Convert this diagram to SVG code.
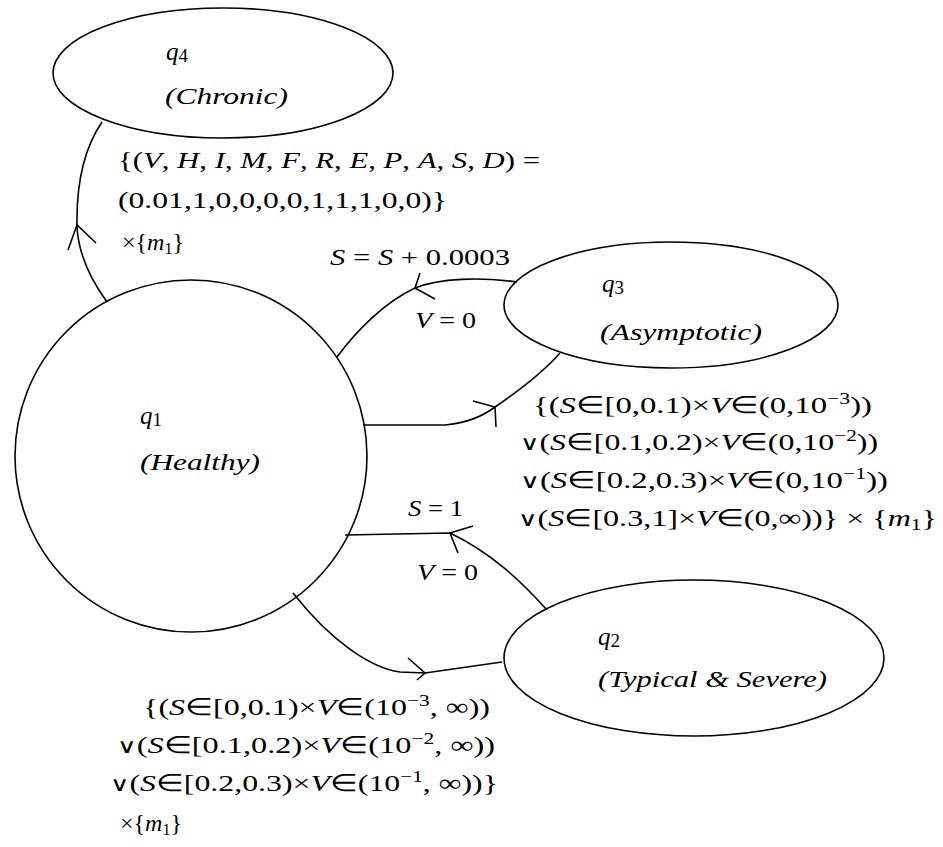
<svg xmlns="http://www.w3.org/2000/svg" width="943" height="847" viewBox="0 0 943 847">
<style>
.node{fill:#fff;stroke:#000;stroke-width:1.6}
.edge{fill:none;stroke:#000;stroke-width:1.6}
.t{font-family:"Liberation Serif","Times New Roman",serif;font-size:24px;fill:#000}
.nl{font-family:"Liberation Serif","Times New Roman",serif;font-size:23px;fill:#000;font-style:italic}
.q{font-family:"Liberation Serif","Times New Roman",serif;font-size:25px;fill:#000;font-style:italic}
.i{font-style:italic}
.sub{font-size:16px}
.qs{font-size:19px;font-style:normal}
.sup{font-size:16px}
.or{font-family:"DejaVu Serif",serif;font-size:20px}
</style>
<rect width="943" height="847" fill="#fff"/>
<g id="q4">
<ellipse class="node" cx="223" cy="73" rx="170" ry="65"/>
<text class="q" x="166" y="60">q<tspan class="qs" dy="2">4</tspan></text>
<text class="nl" x="165" y="104" textLength="123" lengthAdjust="spacingAndGlyphs">(Chronic)</text>
</g>
<g id="q1">
<circle class="node" cx="191" cy="456" r="176"/>
<text class="q" x="140" y="424">q<tspan class="qs" dy="2">1</tspan></text>
<text class="nl" x="140" y="470" textLength="120" lengthAdjust="spacingAndGlyphs">(Healthy)</text>
</g>
<g id="q3">
<ellipse class="node" cx="671" cy="305" rx="167" ry="63"/>
<text class="q" x="602" y="292">q<tspan class="qs" dy="2">3</tspan></text>
<text class="nl" x="600" y="340" textLength="162" lengthAdjust="spacingAndGlyphs">(Asymptotic)</text>
</g>
<g id="q2">
<ellipse class="node" cx="694" cy="658" rx="190" ry="78"/>
<text class="q" x="598" y="645">q<tspan class="qs" dy="2">2</tspan></text>
<text class="nl" x="598" y="687" textLength="229" lengthAdjust="spacingAndGlyphs">(Typical &amp; Severe)</text>
</g>
<g id="connectors">
<path class="edge" d="M107,302 Q78,262 77,225 Q76,160 102,122"/>
<path class="edge" d="M68,250 L77,225 L96,243"/>
<path class="edge" d="M517,282 C480,277 440,278 415,288 C385,302 357,330 337,357"/>
<path class="edge" d="M420,273 L415,288 L435,299"/>
<path class="edge" d="M363,425 L445,425 C468,423 483,416 495,407 C520,390 545,370 560,353"/>
<path class="edge" d="M473,401 L495,407 L496,427"/>
<path class="edge" d="M547,610 C520,580 490,552 450,533 L345,535"/>
<path class="edge" d="M473,526 L450,533 L458,553"/>
<path class="edge" d="M293,593 C330,640 370,668 400,672 L425,673 L502,662"/>
<path class="edge" d="M408,658 L425,673 L417,680"/>
</g>
<g id="labels">
<text class="t" x="118" y="168" textLength="422" lengthAdjust="spacingAndGlyphs">{(<tspan class="i">V</tspan>, <tspan class="i">H</tspan>, <tspan class="i">I</tspan>, <tspan class="i">M</tspan>, <tspan class="i">F</tspan>, <tspan class="i">R</tspan>, <tspan class="i">E</tspan>, <tspan class="i">P</tspan>, <tspan class="i">A</tspan>, <tspan class="i">S</tspan>, <tspan class="i">D</tspan>) =</text>
<text class="t" x="118" y="208" textLength="329" lengthAdjust="spacingAndGlyphs">(0.01,1,0,0,0,0,1,1,1,0,0)}</text>
<text class="t" x="122" y="250">×{<tspan class="i">m</tspan><tspan class="sub" dy="4">1</tspan><tspan dy="-4">}</tspan></text>
<text class="t" x="330" y="265" textLength="180" lengthAdjust="spacingAndGlyphs"><tspan class="i">S</tspan> = <tspan class="i">S</tspan> + 0.0003</text>
<text class="t" x="415" y="328" textLength="61" lengthAdjust="spacingAndGlyphs"><tspan class="i">V</tspan> = 0</text>
<text class="t" x="533" y="413" textLength="339" lengthAdjust="spacingAndGlyphs">{(<tspan class="i">S</tspan>∈[0,0.1)×<tspan class="i">V</tspan>∈(0,10<tspan class="sup" dy="-9">−3</tspan><tspan dy="9">))</tspan></text>
<text class="t" x="520" y="450" textLength="358" lengthAdjust="spacingAndGlyphs"><tspan class="or">∨</tspan>(<tspan class="i">S</tspan>∈[0.1,0.2)×<tspan class="i">V</tspan>∈(0,10<tspan class="sup" dy="-9">−2</tspan><tspan dy="9">))</tspan></text>
<text class="t" x="520" y="488" textLength="368" lengthAdjust="spacingAndGlyphs"><tspan class="or">∨</tspan>(<tspan class="i">S</tspan>∈[0.2,0.3)×<tspan class="i">V</tspan>∈(0,10<tspan class="sup" dy="-9">−1</tspan><tspan dy="9">))</tspan></text>
<text class="t" x="518" y="526" textLength="419" lengthAdjust="spacingAndGlyphs"><tspan class="or">∨</tspan>(<tspan class="i">S</tspan>∈[0.3,1]×<tspan class="i">V</tspan>∈(0,∞))} × {<tspan class="i">m</tspan><tspan class="sub" dy="4">1</tspan><tspan dy="-4">}</tspan></text>
<text class="t" x="408" y="516" textLength="55" lengthAdjust="spacingAndGlyphs"><tspan class="i">S</tspan> = 1</text>
<text class="t" x="417" y="580" textLength="61" lengthAdjust="spacingAndGlyphs"><tspan class="i">V</tspan> = 0</text>
<text class="t" x="143" y="715" textLength="347" lengthAdjust="spacingAndGlyphs">{(<tspan class="i">S</tspan>∈[0,0.1)×<tspan class="i">V</tspan>∈(10<tspan class="sup" dy="-9">−3</tspan><tspan dy="9">, ∞))</tspan></text>
<text class="t" x="117" y="753" textLength="378" lengthAdjust="spacingAndGlyphs"><tspan class="or">∨</tspan>(<tspan class="i">S</tspan>∈[0.1,0.2)×<tspan class="i">V</tspan>∈(10<tspan class="sup" dy="-9">−2</tspan><tspan dy="9">, ∞))</tspan></text>
<text class="t" x="110" y="791" textLength="388" lengthAdjust="spacingAndGlyphs"><tspan class="or">∨</tspan>(<tspan class="i">S</tspan>∈[0.2,0.3)×<tspan class="i">V</tspan>∈(10<tspan class="sup" dy="-9">−1</tspan><tspan dy="9">, ∞))}</tspan></text>
<text class="t" x="120" y="831">×{<tspan class="i">m</tspan><tspan class="sub" dy="4">1</tspan><tspan dy="-4">}</tspan></text>
</g>
</svg>
